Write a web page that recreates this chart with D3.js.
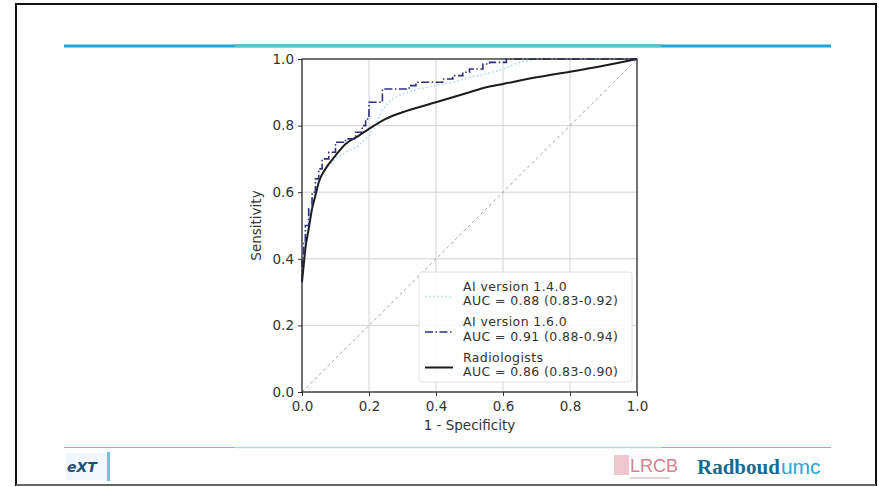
<!DOCTYPE html>
<html>
<head>
<meta charset="utf-8">
<script src="https://cdn.jsdelivr.net/npm/d3@7"></script>
<style>
html,body{margin:0;padding:0;background:#fff;}
svg{display:block;}
</style>
</head>
<body>
<svg id="c" width="879" height="487"></svg>
<script>
// ---- data ----
const xTicks = [0.0, 0.2, 0.4, 0.6, 0.8, 1.0];
const yTicks = [0.0, 0.2, 0.4, 0.6, 0.8, 1.0];

const fprRad = [0, 0.005, 0.01, 0.02, 0.03, 0.04, 0.05, 0.07, 0.1, 0.13, 0.17, 0.2, 0.25, 0.3, 0.4, 0.5, 0.55, 0.6, 0.7, 0.8, 0.9, 1.0];
const tprRad = [0.33, 0.38, 0.43, 0.49, 0.55, 0.59, 0.63, 0.67, 0.71, 0.745, 0.77, 0.79, 0.82, 0.84, 0.87, 0.9, 0.915, 0.925, 0.945, 0.962, 0.98, 1.0];

const fprAI14 = [0, 0.005, 0.01, 0.02, 0.03, 0.05, 0.07, 0.1, 0.13, 0.17, 0.2, 0.22, 0.24, 0.27, 0.3, 0.35, 0.4, 0.45, 0.5, 0.55, 0.6, 0.65, 0.7, 1.0];
const tprAI14 = [0.33, 0.40, 0.45, 0.52, 0.58, 0.63, 0.67, 0.70, 0.72, 0.74, 0.77, 0.80, 0.85, 0.88, 0.895, 0.91, 0.92, 0.93, 0.945, 0.955, 0.97, 0.99, 1.0, 1.0];

const fprAI16 = [0, 0, 0.005, 0.005, 0.01, 0.01, 0.02, 0.02, 0.03, 0.03, 0.04, 0.04, 0.05, 0.05, 0.06, 0.06, 0.08, 0.08, 0.1, 0.1, 0.13, 0.13, 0.16, 0.16, 0.18, 0.18, 0.19, 0.19, 0.2, 0.2, 0.24, 0.24, 0.32, 0.32, 0.34, 0.34, 0.42, 0.42, 0.45, 0.45, 0.48, 0.48, 0.5, 0.5, 0.54, 0.54, 0.56, 0.56, 0.61, 0.61, 1.0];
const tprAI16 = [0.33, 0.40, 0.40, 0.45, 0.45, 0.50, 0.50, 0.55, 0.55, 0.60, 0.60, 0.64, 0.64, 0.67, 0.67, 0.70, 0.70, 0.72, 0.72, 0.75, 0.75, 0.76, 0.76, 0.78, 0.78, 0.80, 0.80, 0.82, 0.82, 0.87, 0.87, 0.91, 0.91, 0.92, 0.92, 0.93, 0.93, 0.94, 0.94, 0.95, 0.95, 0.96, 0.96, 0.97, 0.97, 0.985, 0.985, 0.99, 0.99, 1.0, 1.0];

const legendLabels = [
  ["AI version 1.4.0", "AUC = 0.88 (0.83-0.92)"],
  ["AI version 1.6.0", "AUC = 0.91 (0.88-0.94)"],
  ["Radiologists", "AUC = 0.86 (0.83-0.90)"]
];
const xLabel = "1 - Specificity";
const yLabel = "Sensitivity";

// ---- drawing ----
const svg = d3.select("#c");
const FONT = "DejaVu Sans, sans-serif";

// slide frame
svg.append("rect").attr("x", 16).attr("y", 4).attr("width", 860).attr("height", 481)
  .attr("fill", "#fff").attr("stroke", "#111").attr("stroke-width", 2);
svg.append("line").attr("x1", 16).attr("x2", 876).attr("y1", 485).attr("y2", 485)
  .attr("stroke", "#666").attr("stroke-width", 2);

// header line
svg.append("line").attr("x1", 64).attr("x2", 831).attr("y1", 46).attr("y2", 46)
  .attr("stroke", "#1aa9dc").attr("stroke-width", 3);
svg.append("line").attr("x1", 235).attr("x2", 661).attr("y1", 45.5).attr("y2", 45.5)
  .attr("stroke", "#5ec3c9").attr("stroke-width", 3);
// footer line
svg.append("line").attr("x1", 64).attr("x2", 831).attr("y1", 447.5).attr("y2", 447.5)
  .attr("stroke", "#62c2e2").attr("stroke-width", 1);
svg.append("line").attr("x1", 235).attr("x2", 661).attr("y1", 447.5).attr("y2", 447.5)
  .attr("stroke", "#b8dcdc").attr("stroke-width", 1.5);

// plot
const x = d3.scaleLinear().domain([0, 1]).range([302, 637]);
const y = d3.scaleLinear().domain([0, 1]).range([392, 59]);
const g = svg.append("g");

// grid
g.selectAll(".gx").data(xTicks).join("line")
  .attr("x1", d => x(d)).attr("x2", d => x(d)).attr("y1", y(0)).attr("y2", y(1))
  .attr("stroke", "#d3d3d3").attr("stroke-width", 1);
g.selectAll(".gy").data(yTicks).join("line")
  .attr("y1", d => y(d)).attr("y2", d => y(d)).attr("x1", x(0)).attr("x2", x(1))
  .attr("stroke", "#d3d3d3").attr("stroke-width", 1);

// diagonal
g.append("line").attr("x1", x(0)).attr("y1", y(0)).attr("x2", x(1)).attr("y2", y(1))
  .attr("stroke", "#a0a0a0").attr("stroke-width", 1).attr("stroke-dasharray", "3,3");

const zip = (a, b) => a.map((v, i) => [v, b[i]]);
const straight = d3.line().x(d => x(d[0])).y(d => y(d[1]));
const smooth = d3.line().x(d => x(d[0])).y(d => y(d[1])).curve(d3.curveMonotoneX);

g.append("path").datum(zip(fprAI14, tprAI14)).attr("d", straight)
  .attr("fill", "none").attr("stroke", "#a6dbe8").attr("stroke-width", 1.6)
  .attr("stroke-dasharray", "1.5,2.5");
g.append("path").datum(zip(fprRad, tprRad)).attr("d", smooth)
  .attr("fill", "none").attr("stroke", "#1c1c1c").attr("stroke-width", 2);
g.append("path").datum(zip(fprAI16, tprAI16)).attr("d", straight)
  .attr("fill", "none").attr("stroke", "#2d2f7c").attr("stroke-width", 1.6)
  .attr("stroke-dasharray", "8,2.5,1.5,2.5");

// axes
const xa = svg.append("g").attr("transform", `translate(0,${y(0)})`)
  .call(d3.axisBottom(x).tickValues(xTicks).tickFormat(d3.format(".1f")).tickSize(4).tickPadding(5));
const ya = svg.append("g").attr("transform", `translate(${x(0)},0)`)
  .call(d3.axisLeft(y).tickValues(yTicks).tickFormat(d3.format(".1f")).tickSize(4).tickPadding(4));
[xa, ya].forEach(a => {
  a.select(".domain").remove();
  a.selectAll("text").attr("font-family", FONT).attr("font-size", 13.5).attr("fill", "#333");
  a.selectAll("line").attr("stroke", "#333");
});
// spines
svg.append("rect").attr("x", x(0)).attr("y", y(1)).attr("width", x(1) - x(0)).attr("height", y(0) - y(1))
  .attr("fill", "none").attr("stroke", "#222").attr("stroke-width", 1.2);

// axis labels
svg.append("text").attr("x", (x(0) + x(1)) / 2).attr("y", 430).attr("text-anchor", "middle")
  .attr("font-family", FONT).attr("font-size", 13.5).attr("fill", "#333").text(xLabel);
svg.append("text").attr("transform", `translate(261,${(y(0) + y(1)) / 2}) rotate(-90)`)
  .attr("text-anchor", "middle").attr("font-family", FONT).attr("font-size", 13.5).attr("fill", "#333").text(yLabel);

// legend
const lg = svg.append("g");
lg.append("rect").attr("x", 419).attr("y", 272).attr("width", 213).attr("height", 110).attr("rx", 3)
  .attr("fill", "#fff").attr("fill-opacity", 0.85).attr("stroke", "#e2e2e2");
const styles = [
  {c: "#a6dbe8", w: 1.6, da: "1.5,2.5"},
  {c: "#2d2f7c", w: 1.6, da: "8,2.5,1.5,2.5"},
  {c: "#1c1c1c", w: 2, da: null}
];
legendLabels.forEach((lab, i) => {
  const top = 290.5 + i * 35.5;
  const ly = top + 6;
  const l = lg.append("line").attr("x1", 425).attr("x2", 453).attr("y1", ly).attr("y2", ly)
    .attr("stroke", styles[i].c).attr("stroke-width", styles[i].w);
  if (styles[i].da) l.attr("stroke-dasharray", styles[i].da);
  [0, 1].forEach(k => {
    lg.append("text").attr("x", 463).attr("y", top + k * 14.8)
      .attr("font-family", FONT).attr("font-size", 12.5).attr("letter-spacing", 0.4)
      .attr("fill", "#333").text(lab[k]);
  });
});

// footer logos
const ext = svg.append("g");
ext.append("rect").attr("x", 66).attr("y", 453).attr("width", 44).attr("height", 27).attr("fill", "#f1f7fa");
ext.append("text").attr("x", 67).attr("y", 472).attr("font-family", "DejaVu Sans, sans-serif")
  .attr("font-weight", "bold").attr("font-style", "italic").attr("font-size", 14).attr("fill", "#1d4f78").text("eXT");
ext.append("rect").attr("x", 107).attr("y", 452).attr("width", 3).attr("height", 29).attr("fill", "#6cc7dc");

const lr = svg.append("g");
lr.append("rect").attr("x", 614).attr("y", 455).attr("width", 15).attr("height", 20).attr("fill", "#f1c7cf");
lr.append("text").attr("x", 630).attr("y", 472).attr("font-family", "Liberation Sans, sans-serif")
  .attr("font-size", 18).attr("fill", "#d9808f").text("LRCB");
lr.append("rect").attr("x", 630).attr("y", 477).attr("width", 40).attr("height", 2).attr("fill", "#e4d4d6");

svg.append("text").attr("x", 697).attr("y", 474).attr("font-family", "Liberation Serif, serif")
  .attr("font-weight", "bold").attr("font-size", 21).attr("fill", "#1a6a90")
  .text("Radboud")
  .append("tspan").attr("font-family", "Liberation Sans, sans-serif").attr("font-weight", "normal")
  .attr("fill", "#26a8d0").attr("dx", 1).text("umc");
</script>
</body>
</html>
